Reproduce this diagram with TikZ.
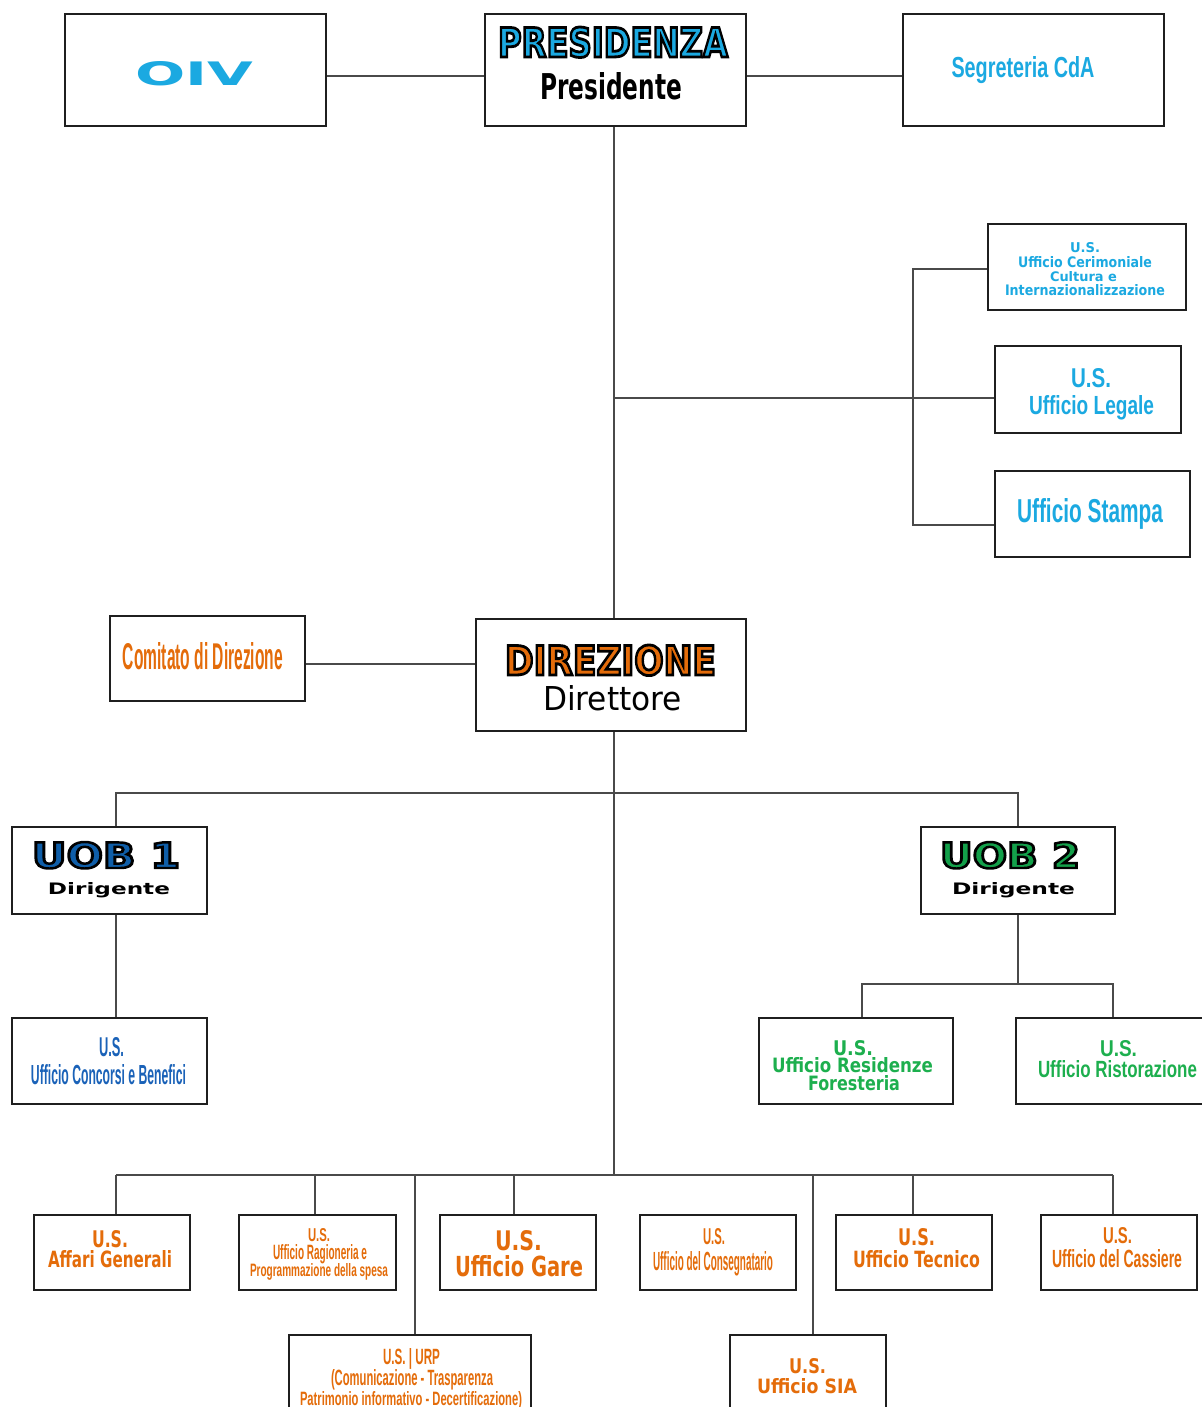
\documentclass[tikz,border=0pt]{standalone}
\usepackage{fontspec}
\setmainfont{Liberation Sans}
\newfontfamily\dv{DejaVu Sans}
\usepackage{graphicx}
\newlength\pxu \setlength\pxu{0.5pt}
\newcommand{\fitl}[3]{\resizebox{#1\pxu}{#2\pxu}{#3}}
\newcommand{\outl}[1]{\special{pdf:literal direct 0 0 0 RG 0.7 w 2 Tr}#1\special{pdf:literal direct 0 Tr}}
\definecolor{cyanc}{HTML}{1BA9E1}
\definecolor{orng}{HTML}{E46C0A}
\definecolor{grn}{HTML}{1DAF4E}
\definecolor{dblue}{HTML}{0F5EA8}
\definecolor{cblue}{HTML}{1A62B8}
\definecolor{uobg}{HTML}{13A04A}
\definecolor{lineg}{HTML}{4A4A4A}
\tikzset{
  box/.style={draw=black!88, line width=1pt, fill=white, inner sep=0pt, rectangle},
  txt/.style={inner sep=0pt, anchor=base, font=\bfseries},
  wtxt/.style={inner sep=0pt, anchor=base, font=\dv\bfseries},
  rtxt/.style={inner sep=0pt, anchor=base, font=\dv},
  conn/.style={draw=lineg, line width=0.7pt}
}
\newcommand{\bx}[5]{\node[box, minimum width={(#4-#2)*0.5pt}, minimum height={(#5-#3)*0.5pt}] (#1) at ({(#2+#4)/2},{(#3+#5)/2}) {};}
\begin{document}
\begin{tikzpicture}[x=0.5pt,y=-0.5pt]
\useasboundingbox[fill=white] (0,0) rectangle (1202,1407);
% boxes
\bx{oiv}{65}{14}{326}{126}
\bx{pres}{485}{14}{746}{126}
\bx{segr}{903}{14}{1164}{126}
\bx{cer}{988}{224}{1186}{310}
\bx{leg}{995}{346}{1181}{433}
\bx{stm}{995}{471}{1190}{557}
\bx{com}{110}{616}{305}{701}
\bx{dir}{476}{619}{746}{731}
\bx{uob1}{12}{827}{207}{914}
\bx{uob2}{921}{827}{1115}{914}
\bx{conc}{12}{1018}{207}{1104}
\bx{res}{759}{1018}{953}{1104}
\bx{ris}{1016}{1018}{1212}{1104}
\bx{aff}{34}{1215}{190}{1290}
\bx{rag}{239}{1215}{396}{1290}
\bx{gare}{440}{1215}{596}{1290}
\bx{cons}{640}{1215}{796}{1290}
\bx{tec}{836}{1215}{992}{1290}
\bx{cas}{1041}{1215}{1197}{1290}
\bx{urp}{289}{1335}{531}{1420}
\bx{sia}{730}{1335}{886}{1420}
% coordinates
\coordinate (trk) at (614,0);
\coordinate (jl) at (614,398);
\coordinate (vb) at (913,0);
\coordinate (ycer) at (0,269);
\coordinate (ystm) at (0,525);
\coordinate (ycom) at (0,664);
\coordinate (h2) at (614,1175);
\coordinate (h3) at (0,984);
\coordinate (u1) at (116,793);
\coordinate (u2) at (1018,793);
\coordinate (r1) at (862,984);
\coordinate (r2) at (1113,984);
\coordinate (d1) at (116,1175);
\coordinate (d2) at (315,1175);
\coordinate (d3) at (415,1175);
\coordinate (d4) at (514,1175);
\coordinate (d5) at (813,1175);
\coordinate (d6) at (913,1175);
\coordinate (d7) at (1113,1175);
% connectors
\draw[conn] ([yshift=-3pt]oiv.east) -- ([yshift=-3pt]pres.west);
\draw[conn] ([yshift=-3pt]pres.east) -- ([yshift=-3pt]segr.west);
\draw[conn] (pres.south -| trk) -- (dir.north -| trk);
\draw[conn] (jl) -- (jl -| leg.west);
\draw[conn] (cer.west |- ycer) -- (vb |- ycer) -- (vb |- ystm) -- (stm.west |- ystm);
\draw[conn] (com.east |- ycom) -- (dir.west |- ycom);
\draw[conn] (dir.south -| trk) -- (h2);
\draw[conn] (uob1.north -| u1) -- (u1) -- (u2) -- (uob2.north -| u2);
\draw[conn] (uob1.south -| u1) -- (conc.north -| u1);
\draw[conn] (uob2.south -| u2) -- (u2 |- h3);
\draw[conn] (res.north -| r1) -- (r1) -- (r2) -- (ris.north -| r2);
\draw[conn] (d1) -- (d7);
\draw[conn] (d1) -- (aff.north -| d1);
\draw[conn] (d2) -- (rag.north -| d2);
\draw[conn] (d3) -- (urp.north -| d3);
\draw[conn] (d4) -- (gare.north -| d4);
\draw[conn] (d5) -- (sia.north -| d5);
\draw[conn] (d6) -- (tec.north -| d6);
\draw[conn] (d7) -- (cas.north -| d7);
% texts
\node[wtxt, text=cyanc] (toiv) at (194,86) {\fitl{118}{24}{OIV}};
\node[wtxt, text=cyanc] (tpres1) at (613,57) {\fitl{230}{30}{\outl{PRESIDENZA}}};
\node[wtxt] (tpres2) at (611,100) {\fitl{142}{27}{Presidente}};
\node[txt, text=cyanc] (tsegr) at (1023,78) {\fitl{143}{21}{Segreteria CdA}};
\node[wtxt, text=cyanc] (tcer1) at (1085,253) {\fitl{30}{10}{U.S.}};
\node[wtxt, text=cyanc] (tcer2) at (1085,267) {\fitl{134}{11}{Ufficio Cerimoniale}};
\node[wtxt, text=cyanc] (tcer3) at (1083.5,281) {\fitl{67}{10}{Cultura e}};
\node[wtxt, text=cyanc] (tcer4) at (1085,295) {\fitl{160}{11}{Internazionalizzazione}};
\node[txt, text=cyanc] (tleg1) at (1091,387) {\fitl{40}{19}{U.S.}};
\node[txt, text=cyanc] (tleg2) at (1091.5,414) {\fitl{125}{19}{Ufficio Legale}};
\node[txt, text=cyanc] (tstm) at (1090,522) {\fitl{146}{24}{Ufficio Stampa}};
\node[txt, text=orng] (tcom) at (203,669) {\fitl{160}{27}{Comitato di Direzione}};
\node[wtxt, text=orng] (tdir1) at (610.5,675) {\fitl{211}{30}{\outl{DIREZIONE}}};
\node[rtxt] (tdir2) at (612.5,710) {\fitl{139}{25}{Direttore}};
\node[wtxt, text=dblue] (tuob1) at (106,868) {\fitl{148}{26}{\outl{UOB 1}}};
\node[wtxt] (tdig1) at (109,894) {\fitl{122}{12}{Dirigente}};
\node[wtxt, text=uobg] (tuob2) at (1010,868) {\fitl{140}{26}{\outl{UOB 2}}};
\node[wtxt] (tdig2) at (1013.5,894) {\fitl{123}{12}{Dirigente}};
\node[txt, text=cblue] (tconc1) at (111.5,1056) {\fitl{25}{19}{U.S.}};
\node[txt, text=cblue] (tconc2) at (108.5,1084) {\fitl{155}{20}{Ufficio Concorsi e Benefici}};
\node[wtxt, text=grn] (tres1) at (853,1055) {\fitl{40}{15}{U.S.}};
\node[wtxt, text=grn] (tres2) at (852.5,1072) {\fitl{161}{15}{Ufficio Residenze}};
\node[wtxt, text=grn] (tres3) at (854,1090) {\fitl{92}{15}{Foresteria}};
\node[txt, text=grn] (tris1) at (1118.5,1056) {\fitl{37}{16}{U.S.}};
\node[txt, text=grn] (tris2) at (1117.5,1077) {\fitl{159}{17}{Ufficio Ristorazione}};
\node[wtxt, text=orng] (taff1) at (110,1247) {\fitl{36}{17}{U.S.}};
\node[wtxt, text=orng] (taff2) at (110,1267) {\fitl{124}{17}{Affari Generali}};
\node[txt, text=orng] (trag1) at (319,1241) {\fitl{22}{13}{U.S.}};
\node[txt, text=orng] (trag2) at (320,1259) {\fitl{94}{15}{Ufficio Ragioneria e}};
\node[txt, text=orng] (trag3) at (319,1276) {\fitl{138}{13}{Programmazione della spesa}};
\node[wtxt, text=orng] (tgare1) at (518.5,1250) {\fitl{47}{20}{U.S.}};
\node[wtxt, text=orng] (tgare2) at (519,1276) {\fitl{128}{21}{Ufficio Gare}};
\node[txt, text=orng] (tcons1) at (714,1244) {\fitl{22}{16}{U.S.}};
\node[txt, text=orng] (tcons2) at (713,1270) {\fitl{120}{19}{Ufficio del Consegnatario}};
\node[wtxt, text=orng] (ttec1) at (916.5,1245) {\fitl{37}{17}{U.S.}};
\node[wtxt, text=orng] (ttec2) at (916.5,1267) {\fitl{127}{17}{Ufficio Tecnico}};
\node[txt, text=orng] (tcas1) at (1117.5,1243) {\fitl{29}{16}{U.S.}};
\node[txt, text=orng] (tcas2) at (1117,1267) {\fitl{130}{18}{Ufficio del Cassiere}};
\node[txt, text=orng] (turp1) at (411.5,1364) {\fitl{57}{16}{U.S. | URP}};
\node[txt, text=orng] (turp2) at (412,1385) {\fitl{162}{16}{(Comunicazione - Trasparenza}};
\node[txt, text=orng] (turp3) at (411,1405) {\fitl{222}{14}{Patrimonio informativo - Decertificazione)}};
\node[wtxt, text=orng] (tsia1) at (807.5,1373) {\fitl{37}{15}{U.S.}};
\node[wtxt, text=orng] (tsia2) at (807,1393) {\fitl{100}{15}{Ufficio SIA}};
\end{tikzpicture}
\end{document}
